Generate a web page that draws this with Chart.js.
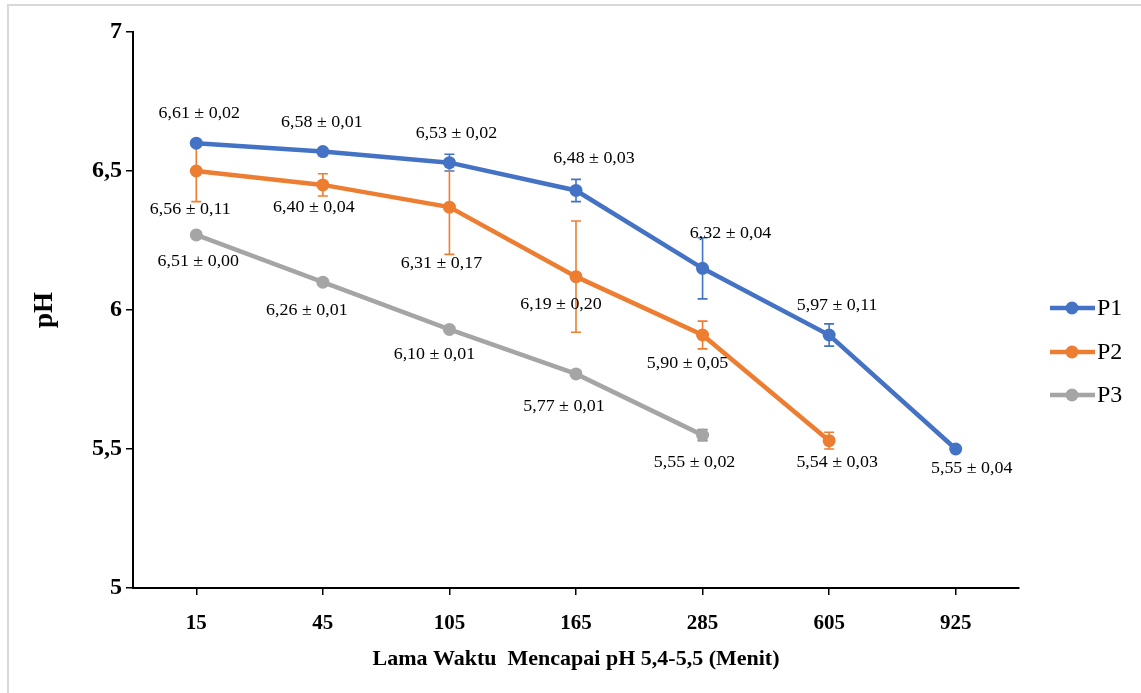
<!DOCTYPE html>
<html>
<head>
<meta charset="utf-8">
<script src="https://cdn.jsdelivr.net/npm/chart.js@4.4.1/dist/chart.umd.min.js"></script>
<style>
  body { margin: 0; background: #fff; }
  canvas { display: block; }
</style>
</head>
<body>
<canvas id="line-chart" width="1141" height="693"></canvas>
<script>
// categories (menit)
let waktu = ["15", "45", "105", "165", "285", "605", "925"];

// nilai pH yang diplot
let p1 = [6.60, 6.57, 6.53, 6.43, 6.15, 5.91, 5.50];
let p2 = [6.50, 6.45, 6.37, 6.12, 5.91, 5.53, null];
let p3 = [6.27, 6.10, 5.93, 5.77, 5.55, null, null];

// error bar (±)
let errP1 = [0.01, 0.00, 0.03, 0.04, 0.11, 0.04, 0];
let errP2 = [0.11, 0.04, 0.17, 0.20, 0.05, 0.03, null];
let errP3 = [0, 0, 0, 0.01, 0.02, null, null];

// label teks tiap titik
let lblP1 = ["6,61 ± 0,02", "6,58 ± 0,01", "6,53 ± 0,02", "6,48 ± 0,03", "6,32 ± 0,04", "5,97 ± 0,11", "5,55 ± 0,04"];
let lblP2 = ["6,56 ± 0,11", "6,40 ± 0,04", "6,31 ± 0,17", "6,19 ± 0,20", "5,90 ± 0,05", "5,54 ± 0,03"];
let lblP3 = ["6,51 ± 0,00", "6,26 ± 0,01", "6,10 ± 0,01", "5,77 ± 0,01", "5,55 ± 0,02"];

let yTicks = [5, 5.5, 6, 6.5, 7];

// posisi label relatif ke titik (px) - layout only
const offP1 = [[3,-29],[-1,-29],[7,-29],[18,-32],[28,-35],[8,-29],[16,20]];
const offP2 = [[-6,39],[-9,23],[-8,57],[-15,28],[-15,29],[8,22]];
const offP3 = [[2,27],[-16,29],[-15,25],[-12,33],[-8,28]];

const BLUE = "#4472C4", ORANGE = "#ED7D31", GREY = "#A5A5A5";
const SERIF = "'Liberation Serif', 'Times New Roman', serif";

let errSets = [errP1, errP2, errP3];
let errColors = [BLUE, ORANGE, "#7f7f7f"];
let lblSets = [lblP1, lblP2, lblP3];
let offSets = [offP1, offP2, offP3];

const framePlugin = {
    id: "frame",
    beforeDraw(chart){
        const ctx = chart.ctx;
        ctx.save();
        ctx.fillStyle = "#fff";
        ctx.fillRect(0, 0, chart.width, chart.height);
        ctx.strokeStyle = "#d9d9d9";
        ctx.lineWidth = 2;
        ctx.strokeRect(8, 5, 1200, 800);
        ctx.restore();
    }
};

const errorBarPlugin = {
    id: "errorBars",
    beforeDatasetsDraw(chart){
        const ctx = chart.ctx;
        const x = chart.scales.x, y = chart.scales.y;
        ctx.save();
        ctx.lineWidth = 1.6;
        errSets.forEach((errs, d) => {
            const vals = chart.data.datasets[d].data;
            ctx.strokeStyle = errColors[d];
            errs.forEach((e, i) => {
                if(e === null || vals[i] === null || !e) return;
                const px = x.getPixelForValue(i);
                const top = y.getPixelForValue(vals[i] + e);
                const bot = y.getPixelForValue(vals[i] - e);
                ctx.beginPath();
                ctx.moveTo(px, top); ctx.lineTo(px, bot);
                ctx.moveTo(px - 5, top); ctx.lineTo(px + 5, top);
                ctx.moveTo(px - 5, bot); ctx.lineTo(px + 5, bot);
                ctx.stroke();
            });
        });
        ctx.restore();
    }
};

//teks label, agak dilebarkan seperti di gambar asli
const labelPlugin = {
    id: "pointLabels",
    afterDatasetsDraw(chart){
        const ctx = chart.ctx;
        const x = chart.scales.x, y = chart.scales.y;
        ctx.save();
        ctx.font = "16px " + SERIF;
        ctx.fillStyle = "#000";
        ctx.textAlign = "center";
        ctx.textBaseline = "middle";
        lblSets.forEach((lbls, d) => {
            const vals = chart.data.datasets[d].data;
            lbls.forEach((t, i) => {
                const px = x.getPixelForValue(i) + offSets[d][i][0];
                const py = y.getPixelForValue(vals[i]) + offSets[d][i][1];
                ctx.save();
                ctx.translate(px, py);
                ctx.scale(1.12, 1);
                ctx.fillText(t, 0, 0);
                ctx.restore();
            });
        });
        ctx.restore();
    }
};

const legendPlugin = {
    id: "sideLegend",
    afterDraw(chart){
        const ctx = chart.ctx;
        const rows = [308, 352, 395];
        ctx.save();
        chart.data.datasets.forEach((ds, i) => {
            const cy = rows[i];
            ctx.strokeStyle = ds.borderColor;
            ctx.lineWidth = 4.5;
            ctx.beginPath();
            ctx.moveTo(1050, cy); ctx.lineTo(1095, cy);
            ctx.stroke();
            ctx.fillStyle = ds.borderColor;
            ctx.beginPath();
            ctx.arc(1072, cy, 6.5, 0, Math.PI * 2);
            ctx.fill();
            ctx.fillStyle = "#000";
            ctx.font = "24px " + SERIF;
            ctx.textBaseline = "middle";
            ctx.textAlign = "left";
            ctx.fillText(ds.label, 1097, cy + 1);
        });
        ctx.restore();
    }
};

function mkSet(label, data, color){
    return {
        label: label,
        data: data,
        borderColor: color,
        backgroundColor: color,
        borderWidth: 4.5,
        pointRadius: 6.5,
        pointHoverRadius: 6.5,
        pointBorderWidth: 0,
        tension: 0,
        spanGaps: false
    };
}

const config = {
    type: "line",
    data: {
        labels: waktu,
        datasets: [mkSet("P1", p1, BLUE), mkSet("P2", p2, ORANGE), mkSet("P3", p3, GREY)]
    },
    options: {
        responsive: false,
        animation: false,
        layout: { padding: { left: 0, right: 122, top: 32, bottom: 0 } },
        plugins: { legend: { display: false }, tooltip: { enabled: false } },
        scales: {
            x: {
                offset: true,
                grid: { display: true, offset: false, drawOnChartArea: false, drawTicks: true, tickLength: 7, color: "#000", lineWidth: 1.5 },
                border: { color: "#000", width: 2 },
                ticks: { color: "#000", padding: 16, font: { family: SERIF, size: 21, weight: "bold" } },
                title: { display: true, text: "Lama Waktu  Mencapai pH 5,4-5,5 (Menit)", color: "#000", padding: { top: 0, bottom: 20 },
                    font: { family: SERIF, size: 22, weight: "bold" } },
                afterFit(scale){ scale.height = 105; }
            },
            y: {
                min: 5, max: 7,
                afterBuildTicks(scale){ scale.ticks = yTicks.map(v => ({ value: v })); },
                grid: { display: true, drawOnChartArea: false, drawTicks: true, tickLength: 7, color: "#000", lineWidth: 1.5 },
                border: { color: "#000", width: 2 },
                ticks: { color: "#000", padding: 4,
                    callback: v => String(v).replace(".", ","),
                    font: { family: SERIF, size: 24, weight: "bold" } },
                title: { display: true, text: "pH", color: "#000", padding: { top: 29, bottom: 0 },
                    font: { family: SERIF, size: 27, weight: "bold" } },
                afterFit(scale){ scale.width = 133; }
            }
        }
    },
    plugins: [framePlugin, errorBarPlugin, labelPlugin, legendPlugin]
};

let myChart = new Chart(document.querySelector("#line-chart"), config);
</script>
</body>
</html>
